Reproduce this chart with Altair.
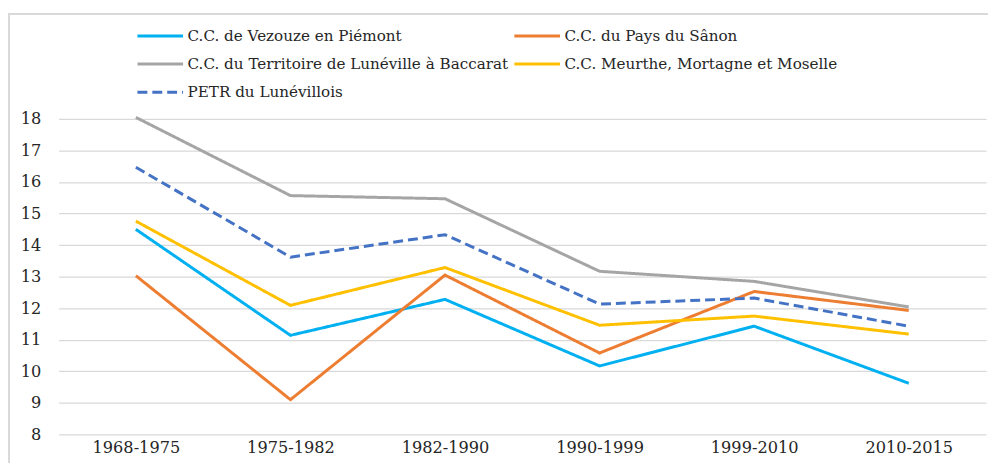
import altair as alt
import pandas as pd

periods = ["1968-1975", "1975-1982", "1982-1990", "1990-1999", "1999-2010", "2010-2015"]
series_names = [
    "C.C. de Vezouze en Piémont",
    "C.C. du Pays du Sânon",
    "C.C. du Territoire de Lunéville à Baccarat",
    "C.C. Meurthe, Mortagne et Moselle",
    "PETR du Lunévillois",
]
vezouze = [14.50, 11.14, 12.28, 10.17, 11.43, 9.62]
sanon = [13.03, 9.10, 13.05, 10.58, 12.53, 11.93]
territoire = [18.05, 15.57, 15.47, 13.17, 12.85, 12.04]
meurthe = [14.76, 12.09, 13.29, 11.46, 11.75, 11.18]
petr = [16.47, 13.62, 14.33, 12.13, 12.32, 11.43]

colors = ["#00B0F0", "#ED7D31", "#A5A5A5", "#FFC000", "#4472C4"]
dashes = [[1, 0], [1, 0], [1, 0], [1, 0], [10, 5]]
y_ticks = [8, 9, 10, 11, 12, 13, 14, 15, 16, 17, 18]

rows = []
for name, vals in zip(series_names, [vezouze, sanon, territoire, meurthe, petr]):
    for p, v in zip(periods, vals):
        rows.append({"periode": p, "serie": name, "valeur": v})
df = pd.DataFrame(rows)

legend_kw = dict(
    title=None,
    orient="none",
    direction="horizontal",
    legendX=78,
    legendY=-97,
    columns=2,
    symbolType="M-1,0H3",
    symbolSize=529,
    symbolStrokeWidth=3,
    labelFont="DejaVu Serif",
    labelFontSize=15.3,
    labelColor="#262626",
    labelLimit=0,
    labelOffset=26,
    rowPadding=6.5,
    columnPadding=-1,
)

lines = alt.Chart(df).mark_line(strokeWidth=3).encode(
    x=alt.X("periode:N", sort=periods, title=None,
            axis=alt.Axis(labelAngle=0, ticks=False, domain=False, grid=False,
                          labelFont="DejaVu Serif", labelFontSize=16.3,
                          labelColor="#262626", labelPadding=5)),
    y=alt.Y("valeur:Q", title=None,
            scale=alt.Scale(domain=[8, 18], nice=False, zero=False),
            axis=alt.Axis(values=y_ticks, ticks=False, domain=False, grid=True,
                          gridColor="#d9d9d9", gridWidth=1.3,
                          labelFont="DejaVu Serif", labelFontSize=16.3,
                          labelColor="#262626", labelPadding=18)),
    color=alt.Color("serie:N", sort=series_names,
                    scale=alt.Scale(domain=series_names, range=colors),
                    legend=alt.Legend(**legend_kw)),
    strokeDash=alt.StrokeDash("serie:N", sort=series_names,
                              scale=alt.Scale(domain=series_names, range=dashes),
                              legend=alt.Legend(**legend_kw)),
    order=alt.Order("periode:N"),
)

frame_top = alt.Chart(df).mark_rule(color="#d9d9d9", strokeWidth=1).encode(
    x=alt.value(-51), x2=alt.value(940), y=alt.value(-106)
)
frame_left = alt.Chart(df).mark_rule(color="#d9d9d9", strokeWidth=1).encode(
    x=alt.value(-50), y=alt.value(-106), y2=alt.value(360)
)

chart = alt.layer(frame_top, frame_left, lines).properties(
    width=935,
    height=318,
    autosize=alt.AutoSizeParams(type="none"),
    padding={"left": 51, "top": 110, "right": 2, "bottom": 27},
).configure_view(stroke=None)

chart.save("out.html", embed_options={"renderer": "svg", "actions": False})
